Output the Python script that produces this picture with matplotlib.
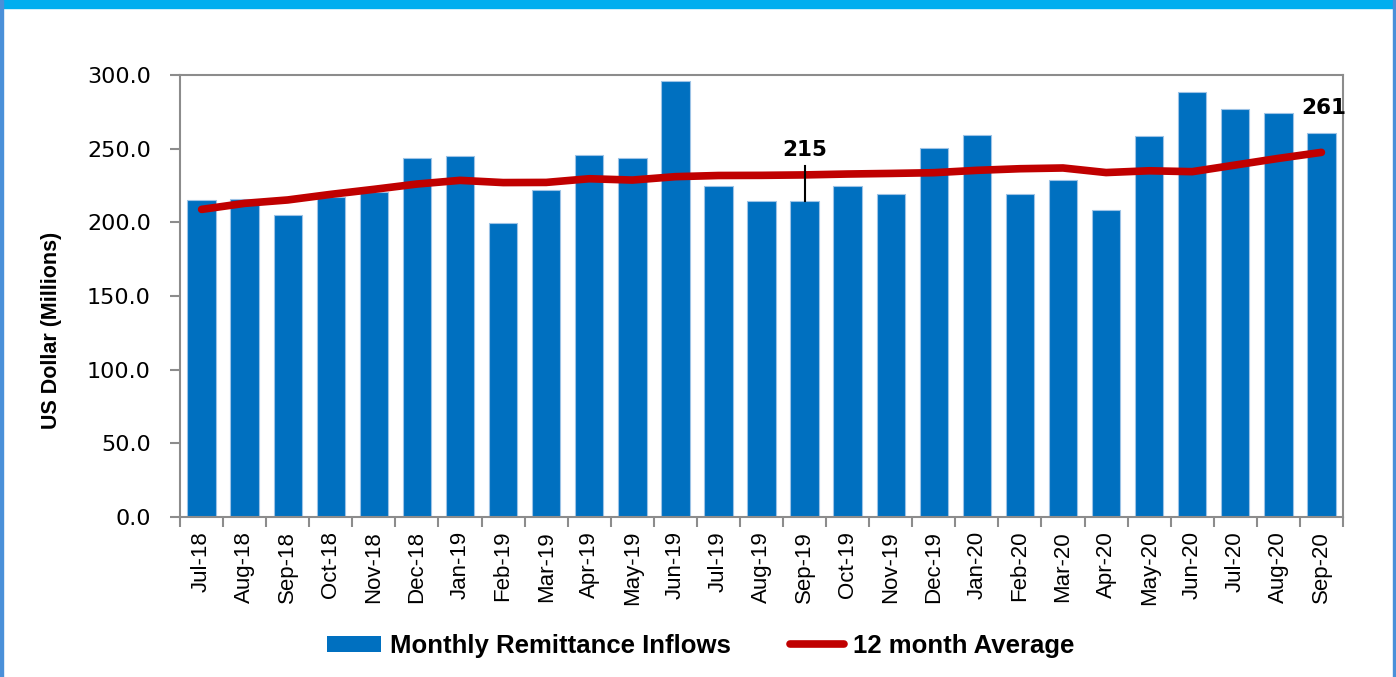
import matplotlib
matplotlib.use("Agg")
import matplotlib.pyplot as plt
from matplotlib.patches import Rectangle
from matplotlib.lines import Line2D
from matplotlib.patches import Patch
import numpy as np

months = ["Jul-18", "Aug-18", "Sep-18", "Oct-18", "Nov-18", "Dec-18", "Jan-19", "Feb-19",
          "Mar-19", "Apr-19", "May-19", "Jun-19", "Jul-19", "Aug-19", "Sep-19", "Oct-19",
          "Nov-19", "Dec-19", "Jan-20", "Feb-20", "Mar-20", "Apr-20", "May-20", "Jun-20",
          "Jul-20", "Aug-20", "Sep-20"]
inflows = [215.4, 215.6, 205.2, 217.0, 220.8, 243.9, 245.2, 199.3, 222.0, 245.7, 243.4, 296.0,
           224.7, 214.5, 214.5, 224.7, 219.0, 250.2, 259.3, 219.0, 228.7, 208.4, 258.6, 288.7,
           277.2, 274.4, 260.9]
avg12 = [208.8, 212.9, 215.2, 219.0, 222.4, 226.0, 228.5, 227.0, 227.1, 229.6, 228.7, 231.0,
         231.8, 231.9, 232.2, 232.8, 233.2, 233.7, 235.3, 236.4, 236.9, 233.8, 235.0, 234.4,
         238.9, 243.4, 247.5]
labels = {14: "215", 26: "261"}

narrow = ["Liberation Sans Narrow", "Liberation Sans", "DejaVu Sans"]

fig = plt.figure(figsize=(13.96, 6.77), dpi=100)
ax = fig.add_axes([0.129, 0.2363, 0.833, 0.6529])

x = np.arange(len(months))
ax.bar(x, inflows, width=0.66, color="#0070C0", edgecolor="#9DC3E6", linewidth=0.8, zorder=2)
ax.plot(x, avg12, color="#C00000", linewidth=5.5, solid_capstyle="round",
        solid_joinstyle="round", zorder=3)

# data labels
i = 14
ax.plot([i, i], [inflows[i], 238], color="black", linewidth=1.5, zorder=4)
ax.text(i, 249, labels[i], ha="center", va="center", fontsize=15.5, fontweight="bold",
        family="DejaVu Sans", zorder=5)
i = 26
ax.text(i + 0.05, 277.6, labels[i], ha="center", va="center", fontsize=15.5, fontweight="bold",
        family="DejaVu Sans", zorder=5)

ax.set_xlim(-0.5, len(months) - 0.5)
ax.set_ylim(0, 300)
ax.set_yticks(np.arange(0, 301, 50))
ax.set_yticklabels(["%.1f" % v for v in np.arange(0, 301, 50)], fontsize=16, family="DejaVu Sans")
ax.set_xticks(x)
ax.set_xticklabels(months, rotation=90, fontsize=16, family=narrow)
ax.set_xticks(np.arange(-0.5, len(months)), minor=True)
ax.tick_params(axis="x", which="major", length=0, pad=10)
ax.tick_params(axis="x", which="minor", length=7, width=1.5, color="#8C8C8C")
ax.tick_params(axis="y", length=7, width=1.5, color="#8C8C8C", pad=14)

for s in ax.spines.values():
    s.set_color("#8C8C8C")
    s.set_linewidth(1.5)

ax.set_ylabel("US Dollar (Millions)", fontsize=15.5, fontweight="bold", family=narrow)
ax.yaxis.set_label_coords(-0.1015, 0.423)

handles = [Patch(facecolor="#0070C0", edgecolor="none"),
           Line2D([0], [0], color="#C00000", linewidth=5.5, solid_capstyle="round")]
fig.legend(handles, ["Monthly Remittance Inflows", "12 month Average"], loc="center",
           bbox_to_anchor=(0.502, 0.046), ncol=2, frameon=False, handlelength=2.1,
           handleheight=0.55, columnspacing=2.3, handletextpad=0.35,
           prop={"family": narrow, "weight": "bold", "size": 18.5})

# frame around the picture
fig.patches.append(Rectangle((0, 0.988), 1, 0.012, transform=fig.transFigure,
                             color="#00AEEF", zorder=10))
fig.patches.append(Rectangle((0, 0), 0.0022, 1, transform=fig.transFigure,
                             color="#4A90D9", zorder=10))
fig.patches.append(Rectangle((0.9978, 0), 0.0022, 1, transform=fig.transFigure,
                             color="#4A90D9", zorder=10))

fig.savefig("out.png", dpi=100)
